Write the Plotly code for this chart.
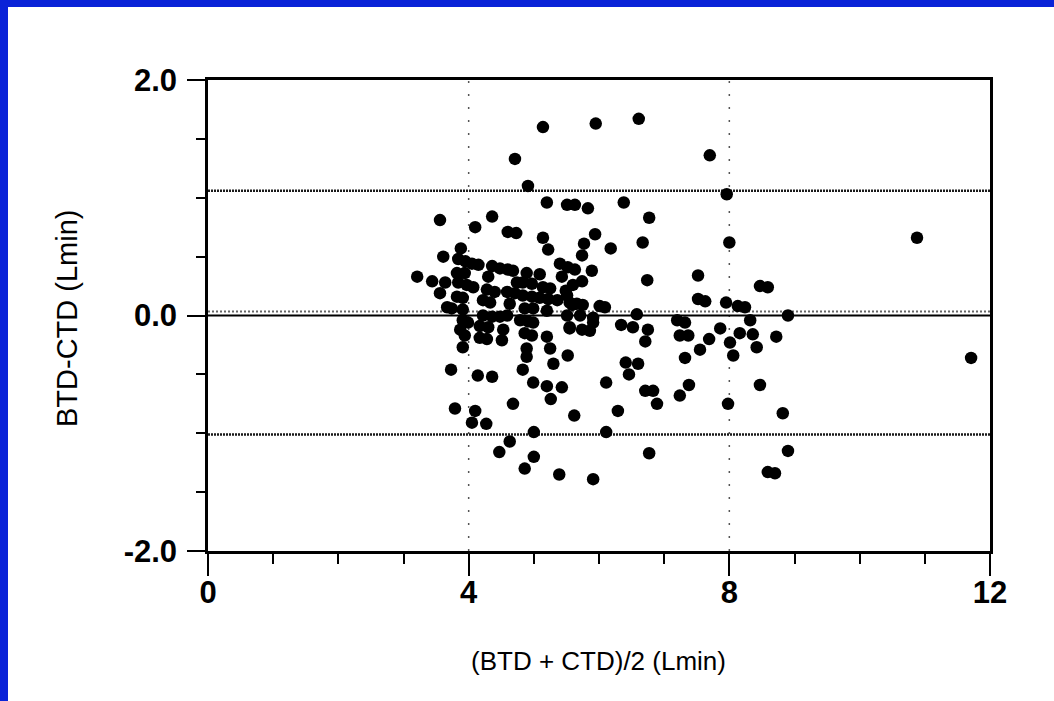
import plotly.graph_objects as go

# Bland-Altman data: mean of the two methods vs their difference (L/min)
mean_lmin = [
    5.14, 4.71, 4.91, 5.20, 5.51, 5.63, 3.56, 4.36, 4.10, 4.60, 4.73, 5.14, 3.88, 5.22,
    5.95, 6.61, 7.70, 7.96, 5.83, 6.38, 6.77, 5.94, 5.77, 6.18, 6.67, 8.00, 3.61,
    3.84, 3.95, 4.05, 4.15, 4.36, 4.48, 4.60, 4.68, 4.89, 5.09, 5.40, 5.52, 5.63,
    3.21, 3.44, 3.64, 3.82, 3.94, 4.30, 3.84, 3.97, 4.07, 4.74, 4.83, 4.97, 5.14, 5.25,
    5.43, 5.60, 3.56, 4.28, 4.40, 4.59, 4.71, 4.83, 4.97, 5.09, 5.22, 5.36, 5.51,
    3.82, 3.91, 4.22, 4.33, 4.63, 3.67, 3.74, 3.91, 4.86, 4.99, 5.20, 5.59,
    3.91, 3.99, 4.22, 4.36, 4.48, 4.59, 4.79, 4.91, 4.99, 4.17, 4.30, 4.53, 3.87, 3.94,
    4.86, 4.97, 5.20, 5.55, 4.17, 4.28, 4.51, 3.91, 4.89, 5.25, 4.89, 5.52,
    5.74, 5.89, 5.74, 6.74, 7.52, 8.47, 8.59, 5.49, 5.55, 5.66, 5.75, 6.01, 6.09,
    7.52, 7.63, 7.95, 8.13, 8.24, 5.51, 5.71, 5.91, 5.91, 6.58, 7.20, 7.32, 8.32,
    5.55, 5.74, 5.86, 6.34, 6.52, 6.75, 7.24, 7.37, 7.86, 8.16, 8.36, 8.72, 6.71,
    7.69, 8.01, 7.55, 8.42, 8.06, 7.32, 8.90, 10.88, 11.71,
    5.30, 3.73, 4.14, 4.36, 4.83, 4.99, 5.20, 5.43, 5.26, 4.68, 3.79, 4.10, 4.05, 4.27,
    5.62, 5.00, 4.63, 4.47, 5.00, 4.86, 5.39,
    6.41, 6.60, 6.46, 6.11, 6.71, 6.83, 7.38, 7.24, 6.89, 7.98, 8.47, 6.29, 6.11, 6.77,
    5.91, 8.82, 8.90, 8.59, 8.70,
]
diff_lmin = [
    1.60, 1.33, 1.10, 0.96, 0.94, 0.94, 0.81, 0.84, 0.75, 0.71, 0.70, 0.66, 0.57, 0.56,
    1.63, 1.67, 1.36, 1.03, 0.91, 0.96, 0.83, 0.69, 0.61, 0.57, 0.62, 0.62, 0.50,
    0.48, 0.46, 0.44, 0.43, 0.42, 0.40, 0.39, 0.38, 0.36, 0.35, 0.44, 0.41, 0.39,
    0.33, 0.29, 0.28, 0.36, 0.36, 0.33, 0.28, 0.26, 0.24, 0.28, 0.28, 0.27, 0.24, 0.23,
    0.33, 0.26, 0.19, 0.22, 0.20, 0.20, 0.19, 0.17, 0.16, 0.15, 0.14, 0.13, 0.17,
    0.16, 0.15, 0.13, 0.11, 0.10, 0.07, 0.06, 0.05, 0.06, 0.06, 0.04, 0.09,
    -0.04, -0.06, 0.00, -0.01, -0.01, 0.00, -0.04, -0.05, -0.06, -0.09, -0.10, -0.12, -0.12, -0.17,
    -0.15, -0.17, -0.18, -0.10, -0.19, -0.20, -0.21, -0.27, -0.28, -0.28, -0.35, -0.34,
    0.51, 0.38, 0.29, 0.30, 0.34, 0.25, 0.24, 0.21, 0.11, 0.10, 0.09, 0.08, 0.07,
    0.14, 0.12, 0.11, 0.08, 0.07, 0.00, 0.00, -0.02, -0.06, 0.01, -0.04, -0.06, -0.04,
    -0.11, -0.12, -0.13, -0.08, -0.10, -0.12, -0.17, -0.17, -0.11, -0.15, -0.16, -0.18, -0.22,
    -0.20, -0.23, -0.29, -0.27, -0.34, -0.36, 0.00, 0.66, -0.36,
    -0.41, -0.46, -0.51, -0.52, -0.46, -0.57, -0.60, -0.61, -0.71, -0.75, -0.79, -0.81, -0.91, -0.92,
    -0.85, -0.99, -1.07, -1.16, -1.20, -1.30, -1.35,
    -0.40, -0.41, -0.50, -0.57, -0.64, -0.64, -0.59, -0.68, -0.75, -0.75, -0.59, -0.81, -0.99, -1.17,
    -1.39, -0.83, -1.15, -1.33, -1.34,
]

# Bias and limits of agreement
bias = 0.035
upper_loa = 1.06
lower_loa = -1.01

x_ticks = [0, 4, 8, 12]
x_tick_text = ["0", "4", "8", "12"]
y_ticks = [-2.0, 0.0, 2.0]
y_tick_text = ["-2.0", "0.0", "2.0"]
x_guides = [4, 8]

W, H = 1054, 701
L, R, T, B = 208, 64, 80, 150
pw, ph = W - L - R, H - T - B

fig = go.Figure()
fig.add_trace(go.Scatter(
    x=mean_lmin, y=diff_lmin, mode="markers",
    marker=dict(color="black", size=12.5, line=dict(width=0)),
    showlegend=False, hoverinfo="x+y",
))

# Reference lines
for gx in x_guides:
    fig.add_shape(type="line", xref="x", yref="y", x0=gx, x1=gx, y0=-2, y1=2,
                  line=dict(color="#555555", width=1.5, dash="2px,11px"), layer="below")
for ly in (upper_loa, lower_loa):
    fig.add_shape(type="line", xref="x", yref="y", x0=0, x1=12, y0=ly, y1=ly,
                  line=dict(color="#1a1a1a", width=2.5, dash="2px,1px"), layer="below")
fig.add_shape(type="line", xref="x", yref="y", x0=0, x1=12, y0=0, y1=0,
              line=dict(color="black", width=2), layer="below")
fig.add_shape(type="line", xref="x", yref="y", x0=0, x1=12, y0=bias, y1=bias,
              line=dict(color="#666666", width=2, dash="2px,2px"), layer="below")

# Blue page frame (top and left edges)
def px_x(p):
    return (p - L) / pw

def px_y(p):
    return (H - B - p) / ph

fig.add_shape(type="rect", xref="paper", yref="paper",
              x0=px_x(0), x1=px_x(1054), y0=px_y(7), y1=px_y(-2),
              fillcolor="#0a23d8", line=dict(width=0), layer="above")
fig.add_shape(type="rect", xref="paper", yref="paper",
              x0=px_x(-2), x1=px_x(8), y0=px_y(703), y1=px_y(0),
              fillcolor="#0a23d8", line=dict(width=0), layer="above")

tick_font = dict(family="Liberation Sans, Arial, sans-serif", size=31, color="black", weight="bold")
title_font = dict(family="Liberation Sans, Arial, sans-serif", size=26, color="black")
ytitle_font = dict(family="Liberation Sans, Arial, sans-serif", size=29, color="black")

fig.update_xaxes(
    range=[0, 12], showgrid=False, zeroline=False,
    showline=True, linecolor="black", linewidth=2.5, mirror=True,
    tickmode="array", tickvals=x_ticks, ticktext=x_tick_text,
    ticks="outside", ticklen=22, tickwidth=2, tickcolor="black",
    minor=dict(dtick=1, ticks="outside", ticklen=10, tickwidth=2, tickcolor="black", showgrid=False),
    tickfont=tick_font, ticklabelstandoff=-10,
)
fig.update_yaxes(
    range=[-2, 2], showgrid=False, zeroline=False,
    showline=True, linecolor="black", linewidth=2.5, mirror=True,
    tickmode="array", tickvals=y_ticks, ticktext=y_tick_text,
    ticks="outside", ticklen=18, tickwidth=2, tickcolor="black",
    minor=dict(dtick=0.5, ticks="outside", ticklen=9, tickwidth=2, tickcolor="black", showgrid=False),
    tickfont=tick_font, ticklabelstandoff=4,
)

fig.add_annotation(text="(BTD + CTD)/2 (Lmin)", xref="paper", yref="paper",
                   x=px_x(598), y=px_y(661), showarrow=False, font=title_font,
                   xanchor="center", yanchor="middle")
fig.add_annotation(text="BTD-CTD (Lmin)", xref="paper", yref="paper",
                   x=px_x(67), y=px_y(318), showarrow=False, font=ytitle_font,
                   textangle=-90, xanchor="center", yanchor="middle")

fig.update_layout(
    width=W, height=H,
    margin=dict(l=L, r=R, t=T, b=B),
    paper_bgcolor="white", plot_bgcolor="white",
    showlegend=False,
)

fig.write_html("out.html")
